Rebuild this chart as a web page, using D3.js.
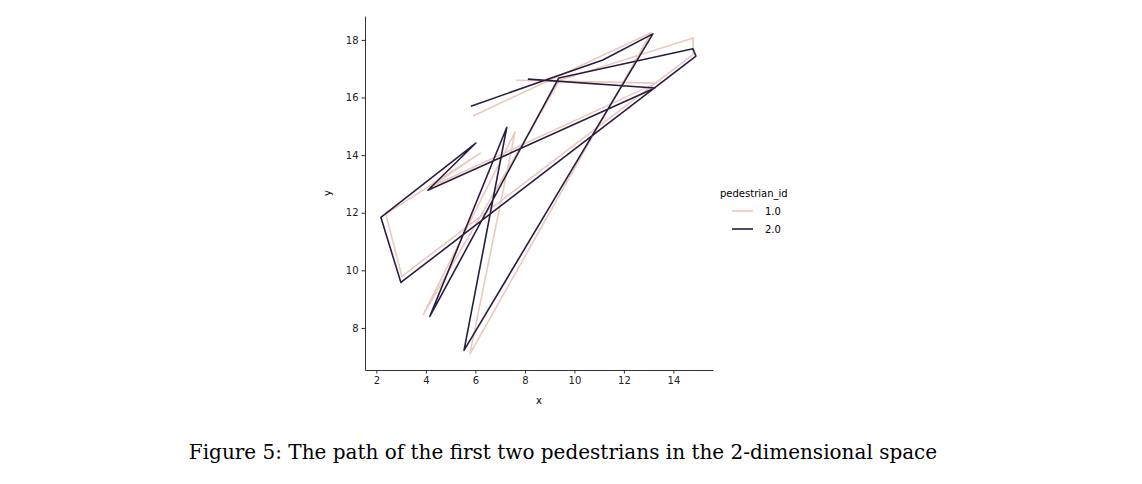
<!DOCTYPE html><html><head><meta charset="utf-8">
<script src="https://cdn.jsdelivr.net/npm/d3@7"></script>
<style>body{margin:0;background:#fff}svg{font-family:"DejaVu Sans",sans-serif}</style></head><body>
<script>
const seriesIds=["1.0","2.0"];
const p1x=[5.90,13.10,5.78,7.60,3.90,9.40,14.80,14.80,3.03,2.38,6.20,4.20,13.30,7.65];
const p1y=[15.36,18.25,7.10,14.80,8.47,16.60,18.07,17.50,9.79,11.95,14.07,12.90,16.50,16.60];
const p2x=[5.82,11.15,13.17,5.54,7.27,4.16,9.37,14.79,14.91,2.99,2.18,6.02,4.08,13.25,8.12];
const p2y=[15.70,17.30,18.21,7.22,14.97,8.40,16.68,17.69,17.44,9.58,11.84,14.42,12.78,16.33,16.64];
const xTicks=[2,4,6,8,10,12,14], yTicks=[8,10,12,14,16,18];
const colors=["#ebc9bf","#2b1d3d"];
const svg=d3.select("body").append("svg").attr("width",1142).attr("height",484);
const x=d3.scaleLinear().domain([1.54,15.6]).range([365,713]);
const y=d3.scaleLinear().domain([6.54,18.83]).range([370,16]);
const series=[p1x.map((v,i)=>[v,p1y[i]]),p2x.map((v,i)=>[v,p2y[i]])];
const line=d3.line().x(d=>x(d[0])).y(d=>y(d[1]));
series.forEach((s,i)=>svg.append("path").attr("d",line(s)).attr("fill","none").attr("stroke",colors[i]).attr("stroke-width",1.6).attr("stroke-linejoin","round"));
const gx=svg.append("g").attr("transform","translate(0,370)").call(d3.axisBottom(x).tickValues(xTicks).tickSize(3.5).tickSizeOuter(0));
const gy=svg.append("g").attr("transform","translate(365,0)").call(d3.axisLeft(y).tickValues(yTicks).tickSize(3.5).tickSizeOuter(0));
[gx,gy].forEach(g=>{g.selectAll("text").attr("font-size",10).attr("fill","#222").attr("font-family","DejaVu Sans");g.selectAll("path,line").attr("stroke","#333");});
svg.append("text").attr("x",539).attr("y",404).attr("text-anchor","middle").attr("font-size",10).text("x");
svg.append("text").attr("transform","translate(331,193) rotate(-90)").attr("text-anchor","middle").attr("font-size",10).text("y");
svg.append("text").attr("x",720).attr("y",197).attr("font-size",10).text("pedestrian_id");
seriesIds.forEach((id,i)=>{const yy=211+i*18;
svg.append("line").attr("x1",732).attr("x2",753).attr("y1",yy).attr("y2",yy).attr("stroke",colors[i]).attr("stroke-width",1.6);
svg.append("text").attr("x",765).attr("y",yy+3.5).attr("font-size",10).text(id);});
svg.append("text").attr("x",563).attr("y",459).attr("text-anchor","middle").attr("font-family","'DejaVu Serif',serif").attr("font-size",20).text("Figure 5: The path of the first two pedestrians in the 2-dimensional space");
</script></body></html>
